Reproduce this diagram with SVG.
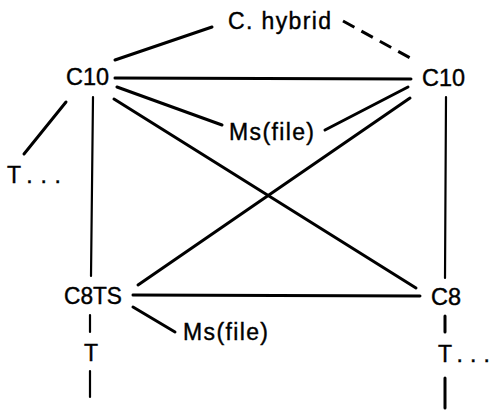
<svg xmlns="http://www.w3.org/2000/svg" width="493" height="411" viewBox="0 0 493 411">
<style>
text{font-family:"Liberation Sans",Arial,sans-serif;font-size:23px;fill:#000;stroke:#000;stroke-width:0.4}
.l{stroke:#000;stroke-width:3;stroke-linecap:round;fill:none}
.t{stroke-width:2.2}
.d{stroke-dasharray:13 8;stroke-linecap:butt}
</style>
<rect width="493" height="411" fill="#fff"/>
<g id="connectors">
<line class="l" x1="115" y1="60" x2="212" y2="27"/>
<line class="l d" x1="343" y1="21" x2="414" y2="60"/>
<line class="l" x1="115" y1="78" x2="411" y2="79"/>
<line class="l" x1="117" y1="87" x2="222" y2="125"/>
<line class="l" x1="114" y1="99" x2="416" y2="288"/>
<line class="l" x1="66" y1="102" x2="24" y2="154"/>
<line class="l t" x1="93" y1="97" x2="91" y2="276"/>
<line class="l" x1="408" y1="87" x2="325" y2="130"/>
<line class="l" x1="410" y1="98" x2="138" y2="285"/>
<line class="l t" x1="446" y1="97" x2="445" y2="278"/>
<line class="l" x1="133" y1="295" x2="420" y2="296"/>
<line class="l" x1="133" y1="307" x2="175" y2="332"/>
<line class="l t" x1="90" y1="315" x2="90" y2="332"/>
<line class="l t" x1="90" y1="371" x2="90" y2="397"/>
<line class="l" x1="445" y1="316" x2="445" y2="332"/>
<line class="l" x1="445" y1="378" x2="445" y2="408"/>
</g>
<g id="hybrid"><text x="228" y="29" textLength="103" lengthAdjust="spacing">C. hybrid</text></g>
<g id="c10-left"><text x="66" y="85" textLength="43" lengthAdjust="spacingAndGlyphs">C10</text></g>
<g id="c10-right"><text x="422" y="86" textLength="43" lengthAdjust="spacingAndGlyphs">C10</text></g>
<g id="msfile-upper"><text x="229" y="140" textLength="85" lengthAdjust="spacing">Ms(file)</text></g>
<g id="t-left"><text x="7" y="183" textLength="54" lengthAdjust="spacing">T...</text></g>
<g id="c8ts"><text x="64" y="304" textLength="58" lengthAdjust="spacingAndGlyphs">C8TS</text></g>
<g id="c8"><text x="431" y="305" textLength="30" lengthAdjust="spacingAndGlyphs">C8</text></g>
<g id="msfile-lower"><text x="183" y="340" textLength="85" lengthAdjust="spacing">Ms(file)</text></g>
<g id="t-c8ts"><text x="84" y="361">T</text></g>
<g id="t-c8"><text x="438" y="362" textLength="52" lengthAdjust="spacing">T...</text></g>
</svg>
